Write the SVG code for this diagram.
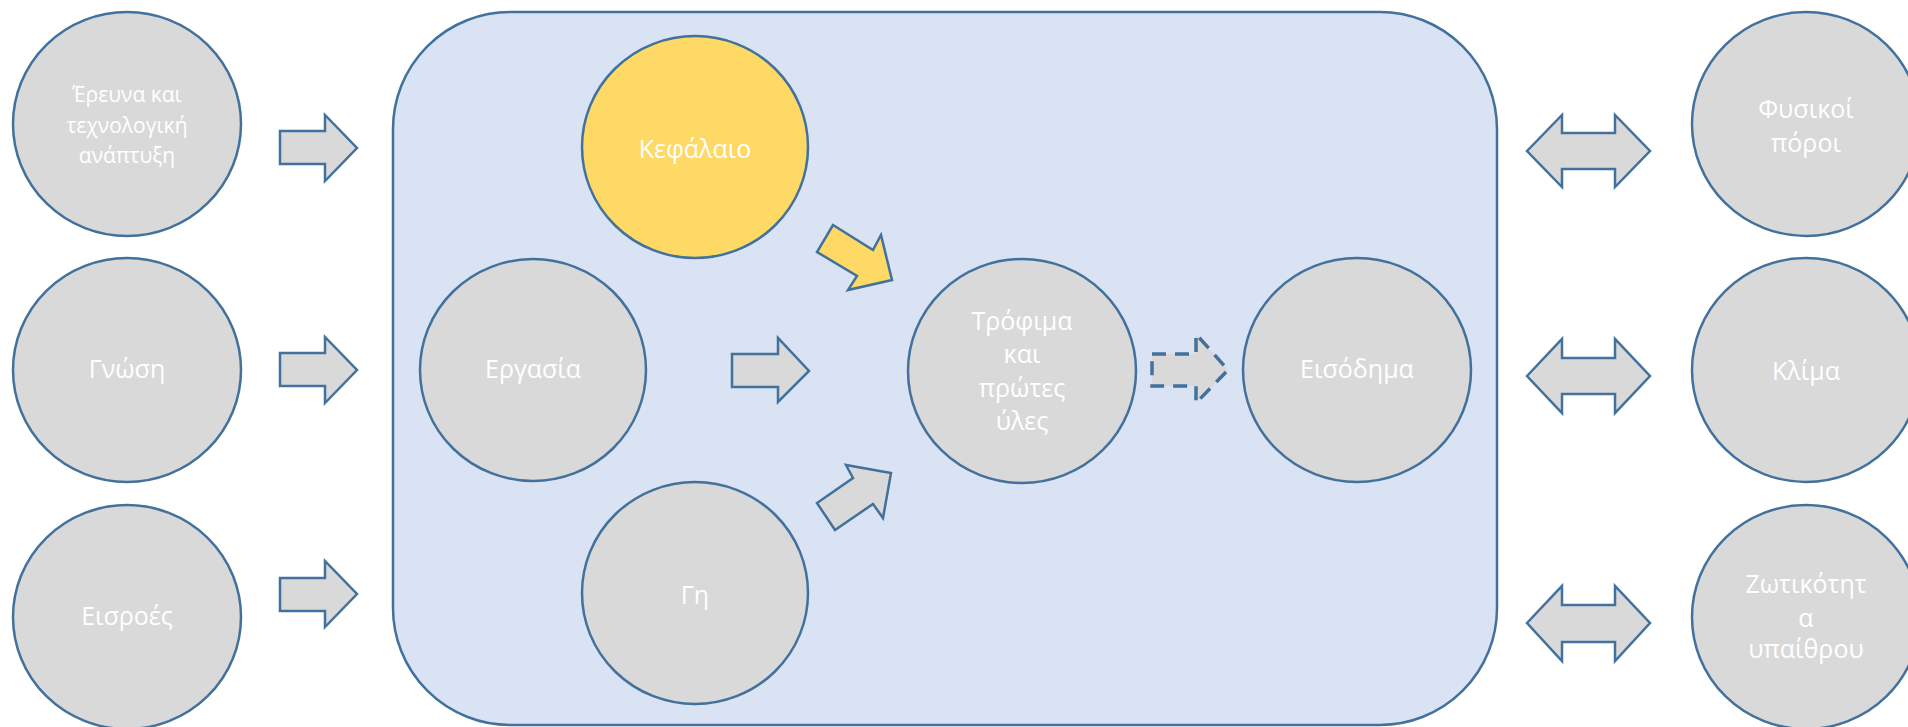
<svg xmlns="http://www.w3.org/2000/svg" width="1908" height="727" viewBox="0 0 1908 727">
<style>
.n{fill:#d9d9d9;stroke:#41719c;stroke-width:2.5}
.y{fill:#ffd966;stroke:#41719c;stroke-width:2.5}
.a{fill:#d9d9d9;stroke:#41719c;stroke-width:2.5;stroke-linejoin:miter}
.ay{fill:#ffd966;stroke:#41719c;stroke-width:2.5}
.d{fill:#d9d9d9;stroke:#41719c;stroke-width:3.5;stroke-dasharray:14,9}
.t{font-family:"Open Sans","Noto Sans",sans-serif;font-size:25px;fill:#ffffff;text-anchor:middle}
.s{font-size:21px}
</style>
<rect id="container" x="393" y="12" width="1104" height="713" rx="117" ry="117" fill="#dae3f3" stroke="#41719c" stroke-width="2.5"/>
<g id="n-erevna"><ellipse class="n" cx="127" cy="124" rx="114" ry="112"/><text class="t s" x="127" y="102">Έρευνα και</text><text class="t s" x="127" y="133">τεχνολογική</text><text class="t s" x="127" y="163">ανάπτυξη</text></g>
<g id="n-gnosi"><ellipse class="n" cx="127" cy="370" rx="114" ry="112"/><text class="t" x="127" y="378">Γνώση</text></g>
<g id="n-eisroes"><ellipse class="n" cx="127" cy="617" rx="114" ry="112"/><text class="t" x="127" y="625">Εισροές</text></g>
<g id="n-kefalaio"><ellipse class="y" cx="695" cy="147" rx="113" ry="111"/><text class="t" x="695" y="158">Κεφάλαιο</text></g>
<g id="n-ergasia"><ellipse class="n" cx="533" cy="370" rx="113" ry="111"/><text class="t" x="533" y="378">Εργασία</text></g>
<g id="n-gi"><ellipse class="n" cx="695" cy="593" rx="113" ry="111"/><text class="t" x="695" y="604">Γη</text></g>
<g id="n-trofima"><ellipse class="n" cx="1022" cy="371" rx="114" ry="112"/><text class="t" x="1022" y="330">Τρόφιμα</text><text class="t" x="1022" y="363">και</text><text class="t" x="1022" y="397">πρώτες</text><text class="t" x="1022" y="430">ύλες</text></g>
<g id="n-eisodima"><ellipse class="n" cx="1357" cy="370" rx="114" ry="112"/><text class="t" x="1357" y="378">Εισόδημα</text></g>
<g id="n-fysikoi"><ellipse class="n" cx="1806" cy="124" rx="114" ry="112"/><text class="t" x="1806" y="118">Φυσικοί</text><text class="t" x="1806" y="152">πόροι</text></g>
<g id="n-klima"><ellipse class="n" cx="1806" cy="370" rx="114" ry="112"/><text class="t" x="1806" y="380">Κλίμα</text></g>
<g id="n-zotikotita"><ellipse class="n" cx="1806" cy="617" rx="114" ry="112"/><text class="t" x="1806" y="593">Ζωτικότητ</text><text class="t" x="1806" y="627">α</text><text class="t" x="1806" y="658">υπαίθρου</text></g>
<g id="connectors">
<polygon class="a" points="280,131 325,131 325,115 357,148 325,181 325,164 280,164"/>
<polygon class="a" points="280,353 325,353 325,337 357,370 325,403 325,386 280,386"/>
<polygon class="a" points="280,578 325,578 325,561 357,594 325,627 325,611 280,611"/>
<polygon class="a" points="732,354 778,354 778,338 809,371 778,402 778,387 732,387"/>
<polygon class="ay" points="833,225 873,250 881,235 892,280 848,290 857,276 817,252"/>
<polygon class="a" points="835,530 817,503 853,478 846,465 891,473 883,518 873,504"/>
<polygon class="d" points="1152,354 1196,354 1196,334 1228,370 1196,403 1196,386 1152,386"/>
<polygon class="a" points="1527,151 1562,115 1562,133 1615,133 1615,115 1650,151 1615,187 1615,169 1562,169 1562,187"/>
<polygon class="a" points="1527,376 1562,339 1562,358 1615,358 1615,339 1650,376 1615,413 1615,394 1562,394 1562,413"/>
<polygon class="a" points="1527,623 1562,586 1562,605 1615,605 1615,586 1650,623 1615,661 1615,642 1562,642 1562,661"/>
</g>
</svg>
